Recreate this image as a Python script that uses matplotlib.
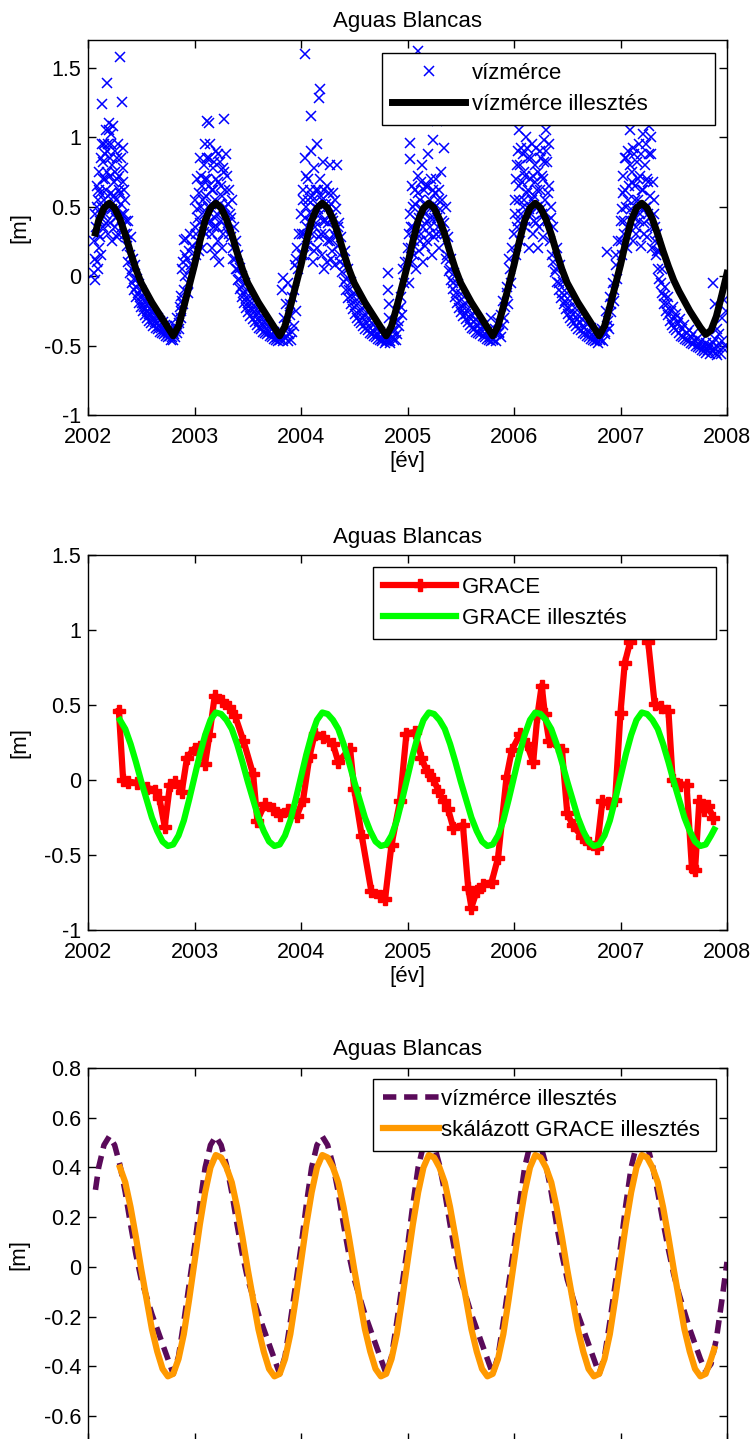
import matplotlib
matplotlib.use('Agg')
import matplotlib.pyplot as plt
from matplotlib.ticker import FuncFormatter, MultipleLocator

plt.rcParams['font.family'] = ['Liberation Sans', 'DejaVu Sans']
plt.rcParams['axes.unicode_minus'] = False

# --- vízmérce (gauge) readings, (year, level in m) ---
gauge_2002 = [
    (2002.06, 0.02), (2002.06, 0.25), (2002.07, -0.03), (2002.07, 0.45), (2002.08, 0.10), (2002.08, 0.65),
    (2002.09, 0.30), (2002.09, 0.55), (2002.10, 0.20), (2002.10, 0.75), (2002.11, 0.40), (2002.11, 0.60),
    (2002.12, 0.15), (2002.12, 0.85), (2002.13, 0.50), (2002.13, 1.24), (2002.14, 0.35), (2002.14, 0.70),
    (2002.15, 0.95), (2002.15, 0.55), (2002.16, 0.45), (2002.16, 0.88), (2002.17, 1.05), (2002.17, 0.62),
    (2002.18, 1.39), (2002.18, 0.75), (2002.19, 0.30), (2002.19, 0.95), (2002.20, 0.50), (2002.20, 1.10),
    (2002.21, 0.85), (2002.21, 0.38), (2002.22, 1.02), (2002.22, 0.60), (2002.23, 0.25), (2002.23, 0.80),
    (2002.24, 0.45), (2002.24, 0.68), (2002.25, 0.90), (2002.25, 0.35), (2002.26, 0.55), (2002.27, 0.70),
    (2002.27, 0.28), (2002.28, 0.95), (2002.28, 0.48), (2002.29, 0.62), (2002.30, 1.58), (2002.30, 0.40),
    (2002.31, 0.85), (2002.31, 0.52), (2002.32, 1.25), (2002.32, 0.35), (2002.33, 0.68), (2002.33, 0.92),
    (2002.34, 0.45), (2002.35, 0.30), (2002.35, 0.55), (2002.37, 0.22), (2002.38, 0.40), (2002.39, 0.15),
    (2002.40, 0.28), (2002.41, 0.05), (2002.42, 0.12), (2002.43, -0.02), (2002.44, 0.08), (2002.45, -0.08),
    (2002.46, -0.02), (2002.47, -0.12), (2002.48, -0.06), (2002.49, -0.15), (2002.50, -0.10), (2002.51, -0.19),
    (2002.52, -0.14), (2002.53, -0.22), (2002.54, -0.18), (2002.55, -0.25), (2002.56, -0.20), (2002.57, -0.27),
    (2002.58, -0.23), (2002.59, -0.28), (2002.60, -0.25), (2002.61, -0.31), (2002.62, -0.27), (2002.63, -0.33),
    (2002.64, -0.29), (2002.65, -0.34), (2002.66, -0.30), (2002.67, -0.36), (2002.68, -0.32), (2002.69, -0.37),
    (2002.70, -0.33), (2002.71, -0.38), (2002.72, -0.35), (2002.73, -0.40), (2002.74, -0.36), (2002.75, -0.41),
    (2002.76, -0.38), (2002.77, -0.43), (2002.78, -0.39), (2002.79, -0.44), (2002.80, -0.40), (2002.81, -0.42),
    (2002.82, -0.36), (2002.83, -0.38), (2002.84, -0.30), (2002.85, -0.34), (2002.86, -0.22), (2002.87, -0.14),
    (2002.87, -0.30), (2002.88, 0.05), (2002.88, -0.18), (2002.89, 0.10), (2002.90, -0.10), (2002.90, 0.26),
    (2002.91, 0.00), (2002.92, 0.27), (2002.93, 0.12), (2002.94, -0.05), (2002.95, 0.18), (2002.96, 0.30),
    (2002.97, 0.08), (2002.98, 0.22),
    (2002.065, 0.12), (2002.075, 0.35), (2002.085, 0.50), (2002.095, 0.05), (2002.105, 0.62), (2002.115, 0.28),
    (2002.125, 0.45), (2002.135, 0.95), (2002.145, 0.82), (2002.155, 0.70), (2002.165, 0.38), (2002.175, 0.90),
    (2002.185, 0.58), (2002.195, 1.05), (2002.205, 0.72), (2002.215, 0.95), (2002.225, 0.48), (2002.235, 1.08),
    (2002.245, 0.58), (2002.255, 0.75), (2002.265, 0.42), (2002.275, 0.85), (2002.285, 0.30), (2002.295, 0.72),
    (2002.305, 0.60), (2002.315, 0.45), (2002.325, 0.78), (2002.340, 0.62), (2002.355, 0.40), (2002.365, 0.30),
    (2002.375, 0.10), (2002.395, 0.02), (2002.415, -0.05), (2002.435, -0.10), (2002.455, -0.15), (2002.475, -0.19),
    (2002.495, -0.22), (2002.515, -0.25), (2002.535, -0.28), (2002.555, -0.30), (2002.575, -0.32), (2002.595, -0.34),
    (2002.615, -0.36), (2002.635, -0.37), (2002.655, -0.38), (2002.675, -0.40), (2002.695, -0.41), (2002.715, -0.42),
    (2002.735, -0.43), (2002.755, -0.44), (2002.775, -0.46), (2002.795, -0.46), (2002.815, -0.44), (2002.835, -0.41),
    (2002.855, -0.38), (2002.875, -0.25), (2002.895, -0.20), (2002.915, 0.15), (2002.935, -0.12), (2002.955, 0.05),
]
gauge_2003 = [
    (2003.00, 0.35), (2003.01, 0.15), (2003.02, 0.48), (2003.03, 0.25), (2003.04, 0.60), (2003.05, 0.38),
    (2003.06, 0.72), (2003.07, 0.20), (2003.08, 0.55), (2003.09, 0.80), (2003.10, 0.45), (2003.10, 0.95),
    (2003.11, 0.30), (2003.12, 0.70), (2003.12, 1.12), (2003.13, 0.50), (2003.14, 0.85), (2003.14, 1.10),
    (2003.15, 0.40), (2003.16, 0.62), (2003.16, 0.20), (2003.17, 0.78), (2003.18, 0.35), (2003.19, 0.55),
    (2003.19, 0.15), (2003.20, 0.90), (2003.21, 0.45), (2003.22, 0.25), (2003.22, 0.68), (2003.23, 0.10),
    (2003.24, 0.82), (2003.25, 0.40), (2003.26, 0.58), (2003.27, 0.30), (2003.28, 1.13), (2003.28, 0.75),
    (2003.29, 0.50), (2003.30, 0.88), (2003.31, 0.38), (2003.32, 0.62), (2003.33, 0.45), (2003.34, 0.28),
    (2003.35, 0.55), (2003.36, 0.20), (2003.37, 0.35), (2003.38, 0.12), (2003.39, 0.25), (2003.40, 0.05),
    (2003.41, 0.15), (2003.42, -0.02), (2003.43, 0.06), (2003.44, -0.08), (2003.45, 0.00), (2003.46, -0.12),
    (2003.47, -0.05), (2003.48, -0.16), (2003.49, -0.10), (2003.50, -0.19), (2003.52, -0.15), (2003.53, -0.23),
    (2003.54, -0.19), (2003.56, -0.26), (2003.57, -0.22), (2003.58, -0.29), (2003.60, -0.26), (2003.61, -0.32),
    (2003.62, -0.29), (2003.64, -0.35), (2003.65, -0.32), (2003.67, -0.38), (2003.68, -0.35), (2003.70, -0.40),
    (2003.71, -0.37), (2003.73, -0.42), (2003.75, -0.40), (2003.77, -0.44), (2003.79, -0.42), (2003.80, -0.46),
    (2003.82, -0.40), (2003.82, -0.10), (2003.83, -0.01), (2003.84, -0.30), (2003.85, -0.44), (2003.86, -0.20),
    (2003.87, -0.38), (2003.88, -0.05), (2003.89, -0.42), (2003.90, -0.28), (2003.91, -0.46), (2003.92, -0.15),
    (2003.93, -0.36), (2003.94, 0.08), (2003.95, -0.25), (2003.96, 0.20), (2003.97, 0.05), (2003.98, 0.30),
    (2003.005, 0.55), (2003.015, 0.30), (2003.025, 0.70), (2003.035, 0.42), (2003.045, 0.18), (2003.055, 0.85),
    (2003.065, 0.50), (2003.075, 0.65), (2003.085, 0.32), (2003.095, 0.70), (2003.105, 0.58), (2003.115, 0.85),
    (2003.125, 0.38), (2003.135, 0.65), (2003.145, 0.95), (2003.155, 0.52), (2003.165, 0.30), (2003.175, 0.62),
    (2003.185, 0.82), (2003.195, 0.42), (2003.205, 0.70), (2003.215, 0.35), (2003.225, 0.88), (2003.235, 0.52),
    (2003.245, 0.65), (2003.255, 0.20), (2003.265, 0.78), (2003.275, 0.48), (2003.285, 0.62), (2003.295, 0.35),
    (2003.305, 0.72), (2003.315, 0.52), (2003.325, 0.30), (2003.345, 0.42),
    (2003.365, 0.12), (2003.385, 0.05), (2003.405, -0.03), (2003.425, -0.09), (2003.445, -0.15), (2003.465, -0.19),
    (2003.485, -0.23), (2003.505, -0.26), (2003.525, -0.29), (2003.545, -0.31), (2003.565, -0.33), (2003.585, -0.35),
    (2003.605, -0.37), (2003.625, -0.38), (2003.645, -0.40), (2003.665, -0.41), (2003.685, -0.42), (2003.705, -0.43),
    (2003.725, -0.44), (2003.745, -0.45), (2003.765, -0.46), (2003.785, -0.47), (2003.805, -0.44), (2003.835, -0.47),
    (2003.855, -0.35), (2003.875, -0.47), (2003.895, -0.20), (2003.915, -0.40), (2003.935, -0.10), (2003.955, 0.12),
]
gauge_2004 = [
    (2004.00, 0.45), (2004.01, 0.15), (2004.02, 0.62), (2004.03, 0.30), (2004.04, 1.60), (2004.04, 0.85),
    (2004.05, 0.50), (2004.06, 0.22), (2004.07, 0.70), (2004.08, 0.40), (2004.09, 1.15), (2004.09, 0.90),
    (2004.10, 0.58), (2004.11, 0.10), (2004.12, 0.78), (2004.13, 0.35), (2004.14, 0.62), (2004.15, 0.95),
    (2004.15, 0.20), (2004.16, 0.48), (2004.17, 1.28), (2004.18, 0.70), (2004.18, 1.35), (2004.19, 0.30),
    (2004.20, 0.55), (2004.21, 0.82), (2004.22, 0.05), (2004.23, 0.40), (2004.24, 0.65), (2004.25, 0.25),
    (2004.26, 0.50), (2004.27, 0.80), (2004.28, 0.12), (2004.29, 0.42), (2004.30, 0.60), (2004.31, 0.30),
    (2004.32, 0.08), (2004.33, 0.48), (2004.34, 0.80), (2004.35, 0.22), (2004.36, 0.38), (2004.37, 0.15),
    (2004.38, 0.28), (2004.40, 0.08), (2004.41, 0.18), (2004.42, -0.02), (2004.44, 0.05), (2004.45, -0.10),
    (2004.47, -0.04), (2004.48, -0.16), (2004.50, -0.12), (2004.52, -0.21), (2004.53, -0.17), (2004.55, -0.26),
    (2004.57, -0.23), (2004.58, -0.30), (2004.60, -0.27), (2004.62, -0.34), (2004.63, -0.31), (2004.65, -0.37),
    (2004.67, -0.34), (2004.69, -0.40), (2004.70, -0.37), (2004.72, -0.42), (2004.74, -0.40), (2004.76, -0.45),
    (2004.78, -0.42), (2004.80, -0.47), (2004.81, -0.44), (2004.82, 0.02), (2004.82, -0.10), (2004.83, -0.20),
    (2004.83, -0.30), (2004.84, -0.47), (2004.86, -0.40), (2004.87, -0.46), (2004.88, -0.33), (2004.90, -0.42),
    (2004.91, -0.25), (2004.92, -0.36), (2004.94, -0.15), (2004.95, -0.28), (2004.97, -0.05), (2004.98, 0.10),
    (2004.005, 0.30), (2004.015, 0.55), (2004.025, 0.15), (2004.035, 0.42), (2004.045, 0.72), (2004.055, 0.35),
    (2004.065, 0.55), (2004.075, 0.25), (2004.085, 0.62), (2004.095, 0.45), (2004.105, 0.30), (2004.115, 0.55),
    (2004.125, 0.18), (2004.135, 0.50), (2004.145, 0.38), (2004.155, 0.62), (2004.165, 0.28), (2004.175, 0.45),
    (2004.185, 0.58), (2004.195, 0.15), (2004.205, 0.40), (2004.215, 0.62), (2004.225, 0.30), (2004.235, 0.52),
    (2004.245, 0.10), (2004.255, 0.38), (2004.265, 0.60), (2004.275, 0.25), (2004.285, 0.52), (2004.295, 0.18),
    (2004.305, 0.40), (2004.315, 0.55), (2004.325, 0.28), (2004.345, 0.35),
    (2004.365, 0.10), (2004.385, 0.03), (2004.405, -0.04), (2004.425, -0.10), (2004.445, -0.16), (2004.465, -0.20),
    (2004.485, -0.24), (2004.505, -0.27), (2004.525, -0.30), (2004.545, -0.32), (2004.565, -0.34), (2004.585, -0.36),
    (2004.605, -0.38), (2004.625, -0.39), (2004.645, -0.41), (2004.665, -0.42), (2004.685, -0.43), (2004.705, -0.44),
    (2004.725, -0.45), (2004.745, -0.46), (2004.765, -0.47), (2004.785, -0.48), (2004.805, -0.47), (2004.835, -0.48),
    (2004.855, -0.44), (2004.875, -0.38), (2004.895, -0.46), (2004.915, -0.32), (2004.935, -0.22), (2004.955, 0.05),
]
gauge_2005 = [
    (2005.00, 0.20), (2005.01, -0.05), (2005.02, 0.96), (2005.02, 0.84), (2005.03, 0.35), (2005.04, 0.10),
    (2005.05, 0.50), (2005.06, 0.25), (2005.07, 0.62), (2005.08, 0.05), (2005.09, 0.40), (2005.10, 1.62),
    (2005.10, 0.72), (2005.11, 0.18), (2005.12, 0.55), (2005.13, 0.30), (2005.14, 0.80), (2005.15, 0.10),
    (2005.16, 0.45), (2005.17, 0.65), (2005.18, 0.25), (2005.19, 0.88), (2005.20, 0.50), (2005.21, 0.35),
    (2005.22, 0.70), (2005.23, 0.15), (2005.24, 0.98), (2005.25, 0.42), (2005.26, 0.60), (2005.27, 0.30),
    (2005.28, 1.12), (2005.29, 0.55), (2005.30, 0.20), (2005.31, 0.75), (2005.32, 0.40), (2005.34, 0.92),
    (2005.35, 0.30), (2005.36, 0.50), (2005.37, 0.15), (2005.38, 0.28), (2005.40, 0.05), (2005.41, 0.12),
    (2005.43, -0.05), (2005.44, 0.02), (2005.46, -0.12), (2005.47, -0.06), (2005.49, -0.18), (2005.50, -0.13),
    (2005.52, -0.22), (2005.54, -0.19), (2005.55, -0.27), (2005.57, -0.24), (2005.59, -0.30), (2005.60, -0.28),
    (2005.62, -0.33), (2005.64, -0.31), (2005.66, -0.36), (2005.67, -0.34), (2005.69, -0.39), (2005.71, -0.36),
    (2005.73, -0.42), (2005.75, -0.40), (2005.77, -0.44), (2005.78, -0.30), (2005.79, -0.41), (2005.80, -0.46),
    (2005.82, -0.38), (2005.83, -0.42), (2005.85, -0.33), (2005.86, -0.40), (2005.88, -0.28), (2005.90, -0.18),
    (2005.91, -0.30), (2005.93, -0.08), (2005.94, -0.20), (2005.96, 0.05), (2005.97, -0.05), (2005.98, 0.20),
    (2005.005, 0.10), (2005.015, 0.30), (2005.025, 0.45), (2005.035, 0.20), (2005.045, 0.65), (2005.055, 0.35),
    (2005.065, 0.15), (2005.075, 0.52), (2005.085, 0.30), (2005.095, 0.60), (2005.105, 0.42), (2005.115, 0.25),
    (2005.125, 0.68), (2005.135, 0.48), (2005.145, 0.35), (2005.155, 0.62), (2005.165, 0.22), (2005.175, 0.52),
    (2005.185, 0.40), (2005.195, 0.65), (2005.205, 0.30), (2005.215, 0.55), (2005.225, 0.42), (2005.235, 0.62),
    (2005.245, 0.28), (2005.255, 0.50), (2005.265, 0.70), (2005.275, 0.42), (2005.285, 0.35), (2005.295, 0.62),
    (2005.305, 0.48), (2005.315, 0.30), (2005.325, 0.55), (2005.345, 0.38),
    (2005.365, 0.12), (2005.385, 0.04), (2005.405, -0.03), (2005.425, -0.09), (2005.445, -0.15), (2005.465, -0.19),
    (2005.485, -0.23), (2005.505, -0.26), (2005.525, -0.29), (2005.545, -0.31), (2005.565, -0.33), (2005.585, -0.35),
    (2005.605, -0.37), (2005.625, -0.38), (2005.645, -0.40), (2005.665, -0.41), (2005.685, -0.42), (2005.705, -0.43),
    (2005.725, -0.44), (2005.745, -0.45), (2005.765, -0.46), (2005.785, -0.47), (2005.805, -0.45), (2005.835, -0.47),
    (2005.855, -0.41), (2005.875, -0.44), (2005.895, -0.35), (2005.915, -0.22), (2005.935, -0.12), (2005.955, 0.12),
]
gauge_2006 = [
    (2006.00, 0.30), (2006.01, 0.55), (2006.02, 0.15), (2006.03, 0.80), (2006.04, 0.40), (2006.05, 1.05),
    (2006.05, 0.65), (2006.06, 0.25), (2006.07, 0.92), (2006.08, 0.50), (2006.09, 0.75), (2006.10, 0.35),
    (2006.11, 1.00), (2006.12, 0.60), (2006.13, 0.85), (2006.14, 0.20), (2006.15, 0.70), (2006.16, 0.45),
    (2006.17, 0.95), (2006.18, 0.30), (2006.19, 0.58), (2006.20, 0.80), (2006.21, 0.38), (2006.22, 0.62),
    (2006.23, 0.20), (2006.24, 0.90), (2006.25, 0.48), (2006.26, 0.72), (2006.27, 0.28), (2006.28, 0.98),
    (2006.29, 0.55), (2006.30, 1.05), (2006.31, 0.82), (2006.32, 0.40), (2006.33, 0.65), (2006.34, 0.25),
    (2006.35, 0.50), (2006.36, 0.15), (2006.37, 0.35), (2006.39, 0.05), (2006.40, 0.20), (2006.42, -0.05),
    (2006.43, 0.08), (2006.45, -0.12), (2006.46, -0.04), (2006.48, -0.18), (2006.50, -0.12), (2006.52, -0.23),
    (2006.53, -0.18), (2006.55, -0.27), (2006.57, -0.23), (2006.59, -0.31), (2006.60, -0.28), (2006.62, -0.34),
    (2006.64, -0.31), (2006.66, -0.37), (2006.68, -0.34), (2006.70, -0.40), (2006.72, -0.37), (2006.74, -0.43),
    (2006.76, -0.40), (2006.78, -0.46), (2006.80, -0.43), (2006.82, -0.45), (2006.83, -0.38), (2006.85, -0.40),
    (2006.86, -0.25), (2006.87, 0.17), (2006.88, -0.32), (2006.90, -0.15), (2006.91, -0.26), (2006.93, -0.05),
    (2006.94, -0.18), (2006.96, 0.08), (2006.97, -0.02), (2006.98, 0.25),
    (2006.005, 0.45), (2006.015, 0.70), (2006.025, 0.35), (2006.035, 0.90), (2006.045, 0.55), (2006.055, 0.80),
    (2006.065, 0.45), (2006.075, 0.68), (2006.085, 0.88), (2006.095, 0.55), (2006.105, 0.72), (2006.115, 0.40),
    (2006.125, 0.92), (2006.135, 0.62), (2006.145, 0.48), (2006.155, 0.85), (2006.165, 0.55), (2006.175, 0.72),
    (2006.185, 0.40), (2006.195, 0.68), (2006.205, 0.92), (2006.215, 0.50), (2006.225, 0.75), (2006.235, 0.35),
    (2006.245, 0.62), (2006.255, 0.85), (2006.265, 0.45), (2006.275, 0.70), (2006.285, 0.82), (2006.295, 0.40),
    (2006.305, 0.90), (2006.315, 0.60), (2006.325, 0.95), (2006.345, 0.42),
    (2006.365, 0.10), (2006.385, 0.03), (2006.405, -0.04), (2006.425, -0.10), (2006.445, -0.16), (2006.465, -0.20),
    (2006.485, -0.24), (2006.505, -0.27), (2006.525, -0.30), (2006.545, -0.32), (2006.565, -0.34), (2006.585, -0.36),
    (2006.605, -0.38), (2006.625, -0.39), (2006.645, -0.41), (2006.665, -0.42), (2006.685, -0.43), (2006.705, -0.44),
    (2006.725, -0.45), (2006.745, -0.46), (2006.765, -0.47), (2006.785, -0.48), (2006.805, -0.46), (2006.835, -0.47),
    (2006.855, -0.42), (2006.875, -0.36), (2006.895, -0.38), (2006.915, -0.20), (2006.935, -0.10), (2006.955, 0.15),
]
gauge_2007 = [
    (2007.00, 0.40), (2007.01, 0.15), (2007.02, 0.60), (2007.03, 0.30), (2007.04, 0.85), (2007.05, 0.50),
    (2007.06, 0.20), (2007.07, 0.90), (2007.08, 0.65), (2007.09, 1.05), (2007.10, 0.40), (2007.11, 0.75),
    (2007.12, 0.25), (2007.13, 0.88), (2007.14, 0.55), (2007.15, 0.35), (2007.16, 0.70), (2007.17, 0.95),
    (2007.18, 0.45), (2007.19, 0.22), (2007.20, 0.62), (2007.21, 1.02), (2007.22, 0.38), (2007.23, 0.80),
    (2007.24, 0.50), (2007.25, 0.28), (2007.26, 0.68), (2007.27, 1.08), (2007.28, 0.42), (2007.29, 0.88),
    (2007.30, 0.20), (2007.31, 0.55), (2007.32, 0.35), (2007.33, 0.15), (2007.34, 0.30), (2007.35, 0.05),
    (2007.36, 0.18), (2007.38, -0.05), (2007.39, 0.05), (2007.41, -0.14), (2007.42, -0.08), (2007.44, -0.20),
    (2007.45, -0.15), (2007.47, -0.25), (2007.49, -0.22), (2007.51, -0.30), (2007.52, -0.27), (2007.54, -0.34),
    (2007.56, -0.31), (2007.58, -0.38), (2007.60, -0.35), (2007.62, -0.41), (2007.64, -0.39), (2007.66, -0.44),
    (2007.68, -0.42), (2007.70, -0.47), (2007.72, -0.45), (2007.74, -0.49), (2007.76, -0.47), (2007.78, -0.51),
    (2007.80, -0.48), (2007.82, -0.53), (2007.84, -0.50), (2007.86, -0.54), (2007.87, -0.05), (2007.88, -0.52),
    (2007.89, -0.20), (2007.90, -0.55), (2007.91, -0.38), (2007.92, -0.51), (2007.94, -0.56), (2007.95, -0.30),
    (2007.96, -0.52), (2007.97, -0.17), (2007.98, -0.50), (2007.99, -0.25),
    (2007.005, 0.25), (2007.015, 0.48), (2007.025, 0.72), (2007.035, 0.40), (2007.045, 0.62), (2007.055, 0.85),
    (2007.065, 0.35), (2007.075, 0.55), (2007.085, 0.80), (2007.095, 0.48), (2007.105, 0.68), (2007.115, 0.92),
    (2007.125, 0.42), (2007.135, 0.65), (2007.145, 0.30), (2007.155, 0.82), (2007.165, 0.55), (2007.175, 0.40),
    (2007.185, 0.72), (2007.195, 0.88), (2007.205, 0.48), (2007.215, 0.62), (2007.225, 0.30), (2007.235, 0.95),
    (2007.245, 0.70), (2007.255, 0.45), (2007.265, 0.88), (2007.275, 0.58), (2007.285, 1.00), (2007.295, 0.35),
    (2007.305, 0.68), (2007.315, 0.45), (2007.325, 0.25), (2007.345, 0.18),
    (2007.365, -0.02), (2007.385, -0.12), (2007.405, -0.20), (2007.425, -0.25), (2007.445, -0.28), (2007.465, -0.32),
    (2007.485, -0.35), (2007.505, -0.37), (2007.525, -0.39), (2007.545, -0.41), (2007.565, -0.43), (2007.585, -0.44),
    (2007.605, -0.45), (2007.625, -0.46), (2007.645, -0.47), (2007.665, -0.48), (2007.685, -0.49), (2007.705, -0.50),
    (2007.725, -0.51), (2007.745, -0.52), (2007.765, -0.53), (2007.785, -0.54), (2007.805, -0.55), (2007.825, -0.50),
    (2007.845, -0.56), (2007.865, -0.48), (2007.885, -0.45), (2007.905, -0.57), (2007.925, -0.42), (2007.955, -0.47),
]
gauge = gauge_2002 + gauge_2003 + gauge_2004 + gauge_2005 + gauge_2006 + gauge_2007
gauge_t = [p[0] for p in gauge]
gauge_v = [p[1] for p in gauge]

# --- vízmérce illesztés (fitted gauge curve), sampled every 0.05 yr ---
vizmerce_fit_t = [2002.07] + [round(2002.10 + 0.05 * i, 2) for i in range(119)]
vizmerce_fit_v = [
    0.31, 0.40, 0.49, 0.525, 0.49, 0.41, 0.30, 0.17, 0.05, -0.05, -0.12, -0.19, -0.25, -0.31, -0.37, -0.43, -0.36, -0.22, -0.07,
    0.08, 0.25, 0.40, 0.49, 0.525, 0.49, 0.41, 0.30, 0.17, 0.05, -0.05, -0.12, -0.19, -0.25, -0.31, -0.37, -0.43, -0.36, -0.22, -0.07,
    0.08, 0.25, 0.40, 0.49, 0.525, 0.49, 0.41, 0.30, 0.17, 0.05, -0.05, -0.12, -0.19, -0.25, -0.31, -0.37, -0.43, -0.36, -0.22, -0.07,
    0.08, 0.25, 0.40, 0.49, 0.525, 0.49, 0.41, 0.30, 0.17, 0.05, -0.05, -0.12, -0.19, -0.25, -0.31, -0.37, -0.43, -0.36, -0.22, -0.07,
    0.08, 0.25, 0.40, 0.49, 0.525, 0.49, 0.41, 0.30, 0.17, 0.05, -0.05, -0.12, -0.19, -0.25, -0.31, -0.37, -0.43, -0.36, -0.22, -0.07,
    0.08, 0.25, 0.40, 0.49, 0.525, 0.49, 0.41, 0.30, 0.18, 0.07, -0.03, -0.11, -0.18, -0.25, -0.31, -0.37, -0.42, -0.39, -0.29, -0.14,
    0.02,
]

# --- GRACE monthly solutions ---
grace_t = [
    2002.29, 2002.33, 2002.38, 2002.46, 2002.55, 2002.63, 2002.67, 2002.72, 2002.77, 2002.82, 2002.88, 2002.93,
    2003.00, 2003.05, 2003.10, 2003.14, 2003.19, 2003.26, 2003.32, 2003.38, 2003.46, 2003.55, 2003.59, 2003.66,
    2003.74, 2003.80, 2003.88, 2003.96, 2004.02, 2004.08, 2004.13, 2004.21, 2004.30, 2004.35, 2004.46, 2004.50,
    2004.57, 2004.66, 2004.74, 2004.79, 2004.85, 2004.93, 2004.99, 2005.07, 2005.13, 2005.18, 2005.24, 2005.29,
    2005.34, 2005.38, 2005.43, 2005.52, 2005.57, 2005.60, 2005.65, 2005.71, 2005.79, 2005.85, 2005.93, 2005.98,
    2006.06, 2006.12, 2006.18, 2006.22, 2006.26, 2006.29, 2006.33, 2006.45, 2006.50, 2006.55, 2006.64, 2006.70,
    2006.78, 2006.83, 2006.88, 2006.95, 2007.00, 2007.04, 2007.09, 2007.13, 2007.21, 2007.26, 2007.32, 2007.38,
    2007.45, 2007.49, 2007.56, 2007.62, 2007.67, 2007.70, 2007.74, 2007.78, 2007.82, 2007.87,
]
grace_v = [
    0.46, 0.00, -0.01, -0.02, -0.05, -0.07, -0.12, -0.31, -0.03, -0.01, -0.08, 0.15,
    0.21, 0.22, 0.11, 0.30, 0.56, 0.53, 0.49, 0.43, 0.26, 0.04, -0.27, -0.16,
    -0.19, -0.23, -0.20, -0.24, -0.13, 0.16, 0.31, 0.29, 0.24, 0.12, 0.21, -0.06,
    -0.37, -0.74, -0.77, -0.79, -0.43, -0.14, 0.31, 0.32, 0.15, 0.06, 0.01, -0.07,
    -0.14, -0.19, -0.32, -0.30, -0.72, -0.85, -0.74, -0.70, -0.68, -0.52, 0.02, 0.20,
    0.31, 0.24, 0.12, 0.43, 0.63, 0.44, 0.26, 0.20, -0.22, -0.30, -0.38, -0.42,
    -0.45, -0.14, -0.15, -0.13, 0.45, 0.78, 0.92, 1.12, 1.08, 0.92, 0.51, 0.49,
    0.46, 0.00, -0.03, -0.03, -0.58, -0.60, -0.14, -0.20, -0.17, -0.25,
]

# --- GRACE illesztés (fitted GRACE curve), sampled every 0.05 yr ---
grace_fit_t = [round(2002.30 + 0.05 * i, 2) for i in range(112)] + [2007.88]
grace_fit_v = [
    0.40, 0.34, 0.24, 0.12, -0.01, -0.13, -0.25, -0.34, -0.41, -0.44, -0.43, -0.37, -0.27, -0.13,
    0.02, 0.17, 0.30, 0.40, 0.45, 0.44, 0.40, 0.34, 0.24, 0.12, -0.01, -0.13, -0.25, -0.34, -0.41, -0.44, -0.43, -0.37, -0.27, -0.13,
    0.02, 0.17, 0.30, 0.40, 0.45, 0.44, 0.40, 0.34, 0.24, 0.12, -0.01, -0.13, -0.25, -0.34, -0.41, -0.44, -0.43, -0.37, -0.27, -0.13,
    0.02, 0.17, 0.30, 0.40, 0.45, 0.44, 0.40, 0.34, 0.24, 0.12, -0.01, -0.13, -0.25, -0.34, -0.41, -0.44, -0.43, -0.37, -0.27, -0.13,
    0.02, 0.17, 0.30, 0.40, 0.45, 0.44, 0.40, 0.34, 0.24, 0.12, -0.01, -0.13, -0.25, -0.34, -0.41, -0.44, -0.43, -0.37, -0.27, -0.13,
    0.02, 0.17, 0.30, 0.40, 0.45, 0.44, 0.40, 0.34, 0.24, 0.12, -0.01, -0.13, -0.25, -0.34, -0.41, -0.44, -0.43, -0.37,
    -0.33,
]
# scaled GRACE fit plotted in the last panel
scaled_grace_fit_v = list(grace_fit_v)

years = [2002, 2003, 2004, 2005, 2006, 2007, 2008]


def fmt_y(v, pos):
    if abs(v) < 1e-9:
        return '0'
    return '%g' % round(v, 2)


def style_axes(ax, ylim, ystep):
    ax.set_xlim(2002, 2008)
    ax.set_ylim(*ylim)
    ax.set_xticks(years)
    ax.xaxis.set_major_formatter(FuncFormatter(lambda v, p: '%d' % round(v)))
    ax.yaxis.set_major_locator(MultipleLocator(ystep))
    ax.yaxis.set_major_formatter(FuncFormatter(fmt_y))
    ax.tick_params(direction='in', top=True, right=True, length=6, width=1,
                   labelsize=15.5, pad=5)
    ax.tick_params(axis='x', pad=8.5)
    for s in ax.spines.values():
        s.set_linewidth(1)
    ax.set_title('Aguas Blancas', fontsize=16, pad=9)
    ax.set_ylabel('[m]', fontsize=16, labelpad=10)


def add_legend(ax, x0, width, top, hlen, tpad):
    leg = ax.legend(loc='upper left', bbox_to_anchor=(x0, 0, width, top), mode='expand',
                    borderaxespad=0, fontsize=16, handlelength=hlen, handletextpad=tpad,
                    borderpad=0.45, labelspacing=0.45, numpoints=1, fancybox=False,
                    framealpha=1, edgecolor='black')
    leg.get_frame().set_linewidth(1)
    leg.set_zorder(10)
    return leg


fig = plt.figure(figsize=(7.5, 14.39), dpi=100)
W, H = 750, 1439
ax1 = fig.add_axes([88 / W, (H - 415) / H, 639 / W, 375 / H])
ax2 = fig.add_axes([88 / W, (H - 930) / H, 639 / W, 375 / H])
ax3 = fig.add_axes([88 / W, (H - 1441) / H, 639 / W, 373 / H])

# top: gauge readings with fitted curve
ax1.plot(gauge_t, gauge_v, 'x', color='blue', ms=7, mew=1.1, label='vízmérce')
ax1.plot(vizmerce_fit_t, vizmerce_fit_v, '-', color='black', lw=5, label='vízmérce illesztés')
style_axes(ax1, (-1, 1.7), 0.5)
ax1.set_xlabel('[év]', fontsize=16, labelpad=2)
add_legend(ax1, 0.460, 0.521, 0.965, 3.3, 0.3)

# middle: GRACE series with fit
ax2.plot(grace_t, grace_v, '-', color='red', lw=4.5, marker='P', ms=9, label='GRACE')
ax2.plot(grace_fit_t, grace_fit_v, '-', color=(0, 1, 0), lw=4.5, label='GRACE illesztés')
style_axes(ax2, (-1, 1.5), 0.5)
ax2.set_xlabel('[év]', fontsize=16, labelpad=2)
add_legend(ax2, 0.446, 0.537, 0.968, 3.3, 0.25)

# bottom: both fitted curves together
ax3.plot(vizmerce_fit_t, vizmerce_fit_v, color='#5a0a5a', lw=4, dashes=(2.4, 1.4),
         label='vízmérce illesztés')
ax3.plot(grace_fit_t, scaled_grace_fit_v, '-', color='#ff9900', lw=4.5,
         label='skálázott GRACE illesztés')
style_axes(ax3, (-0.7, 0.8), 0.2)
ax3.tick_params(axis='x', labelbottom=False)
add_legend(ax3, 0.446, 0.537, 0.971, 2.5, 0.1)

fig.savefig('out.png', dpi=100)
